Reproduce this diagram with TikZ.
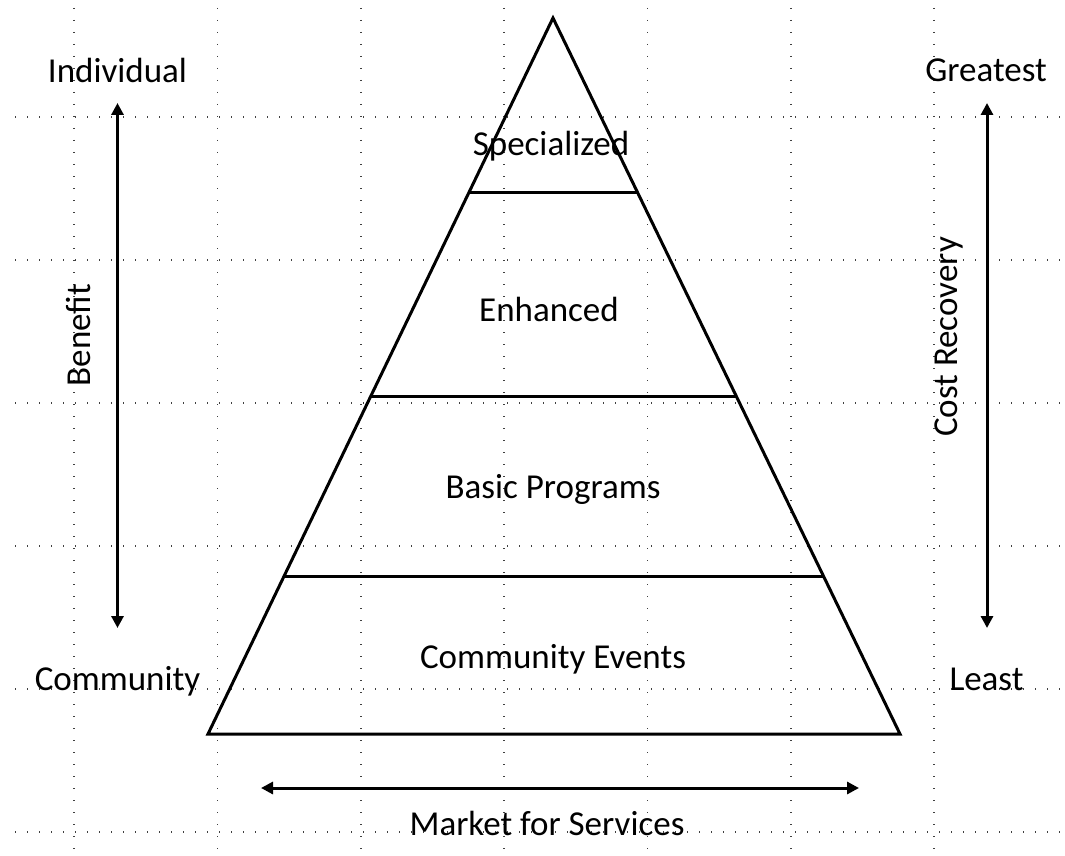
\documentclass[tikz,border=0pt]{standalone}
\usepackage{fontspec}
\setmainfont{Carlito}
\usetikzlibrary{arrows.meta,calc}
\tikzset{
  gridline/.style={black!75,line width=1.1pt,dash pattern=on 1.1pt off 10.9pt},
  edge/.style={black,line width=3pt,line join=miter},
  dbl/.style={black,line width=3pt,{Triangle[width=12pt,length=12pt]}-{Triangle[width=12pt,length=12pt]}},
  lbl/.style={anchor=base,inner sep=0pt,font=\fontsize{35}{42}\selectfont}
}
\begin{document}
\begin{tikzpicture}[x=1pt,y=-1pt]
\useasboundingbox (0,0) rectangle (1065,856);
% dotted grid
\foreach \gx in {74,217.5,361,504,647.5,791,934}
  \draw[gridline] (\gx,8) -- (\gx,856);
\foreach \gy in {117,260,403,546,689,832}
  \draw[gridline] (15,\gy) -- (1065,\gy);
% pyramid
\coordinate (apex) at (553,18);
\coordinate (bl) at (208,734);
\coordinate (br) at (900,734);
\draw[edge] (apex) -- (br) -- (bl) -- cycle;
\coordinate (l1) at ($(apex)!0.2444!(bl)$);
\coordinate (r1) at ($(apex)!0.2444!(br)$);
\coordinate (l2) at ($(apex)!0.5293!(bl)$);
\coordinate (r2) at ($(apex)!0.5293!(br)$);
\coordinate (l3) at ($(apex)!0.7807!(bl)$);
\coordinate (r3) at ($(apex)!0.7807!(br)$);
\draw[edge] (l1) -- (r1);
\draw[edge] (l2) -- (r2);
\draw[edge] (l3) -- (r3);
% layer labels
\node[lbl] (spec) at (551,155) {Specialized};
\node[lbl] (enh) at (549,321) {Enhanced};
\node[lbl] (basic) at (553,498) {Basic Programs};
\node[lbl] (comev) at (553,668) {Community Events};
% side labels
\node[lbl] (indiv) at (117.5,83) {Individual};
\node[lbl] (commu) at (117.5,690) {Community};
\node[lbl] (great) at (986,82) {Greatest};
\node[lbl] (least) at (986.5,690) {Least};
\node[lbl,rotate=90] (benefit) at (90,335) {Benefit};
\node[lbl,rotate=90] (costrec) at (957,337) {Cost Recovery};
\node[lbl] (market) at (547,835) {Market for Services};
% arrows
\coordinate (ba1) at (117.5,103);
\coordinate (ba2) at (117.5,628);
\coordinate (ca1) at (987,103);
\coordinate (ca2) at (987,628);
\coordinate (ma1) at (261,788);
\coordinate (ma2) at (859,788);
\draw[dbl] (ba1) -- (ba2);
\draw[dbl] (ca1) -- (ca2);
\draw[dbl] (ma1) -- (ma2);
\end{tikzpicture}
\end{document}
